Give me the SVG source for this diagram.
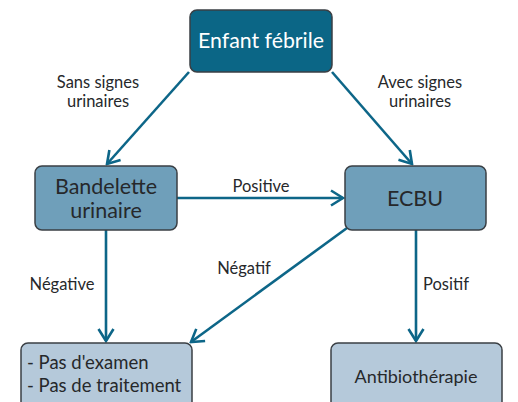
<svg xmlns="http://www.w3.org/2000/svg" width="518" height="402" viewBox="0 0 518 402">
<defs>
<marker id="chev" viewBox="-14 -9 16 18" refX="0" refY="0" markerWidth="16" markerHeight="18" markerUnits="userSpaceOnUse" orient="auto">
<path d="M-12,-7.5 L0,0 L-12,7.5" fill="none" stroke="#0d6688" stroke-width="2.6" stroke-linejoin="miter"/>
</marker>
</defs>
<style>
.node{stroke:#3a3f44;stroke-width:1.5}
.dark{fill:#0b6686}
.mid{fill:#6f9fba}
.light{fill:#b5c9da}
.t{font-family:Lato,"Open Sans","Liberation Sans",sans-serif;fill:#26282b}
.lbl{font-size:16.5px;text-anchor:middle}
.edge{stroke:#0d6688;stroke-width:2.6;fill:none;marker-end:url(#chev)}
</style>
<rect width="518" height="402" fill="#ffffff"/>
<g id="connectors">
<line class="edge" x1="189" y1="72" x2="107" y2="164"/>
<line class="edge" x1="332" y1="72" x2="412" y2="164"/>
<line class="edge" x1="177" y1="198" x2="343" y2="198"/>
<line class="edge" x1="106" y1="230" x2="106" y2="341"/>
<line class="edge" x1="416" y1="230" x2="416" y2="341"/>
<line class="edge" x1="347" y1="228" x2="191" y2="342"/>
</g>
<g id="labels">
<text class="t lbl" x="98" y="88">Sans signes</text>
<text class="t lbl" x="98" y="107">urinaires</text>
<text class="t lbl" x="420" y="88">Avec signes</text>
<text class="t lbl" x="420" y="107">urinaires</text>
<text class="t lbl" x="261" y="192">Positive</text>
<text class="t lbl" x="62" y="290">Négative</text>
<text class="t lbl" x="244" y="274">Négatif</text>
<text class="t lbl" x="446" y="290">Positif</text>
</g>
<g id="n-enfant">
<rect class="node dark" x="190" y="10" width="142" height="62" rx="7"/>
<text class="t" x="261" y="48" font-size="21.3" text-anchor="middle" style="fill:#ffffff">Enfant fébrile</text>
</g>
<g id="n-bandelette">
<rect class="node mid" x="35" y="166" width="142" height="64" rx="7"/>
<text class="t" x="106" y="194" font-size="21.5" text-anchor="middle">Bandelette</text>
<text class="t" x="106" y="218" font-size="21.5" text-anchor="middle">urinaire</text>
</g>
<g id="n-ecbu">
<rect class="node mid" x="345" y="166" width="141" height="64" rx="7"/>
<text class="t" x="415" y="206" font-size="21.5" text-anchor="middle">ECBU</text>
</g>
<g id="n-pas">
<rect class="node light" x="21" y="343" width="171" height="70" rx="7"/>
<text class="t" x="27" y="369" font-size="18.5">- Pas d'examen</text>
<text class="t" x="27" y="392" font-size="18.5">- Pas de traitement</text>
</g>
<g id="n-antibio">
<rect class="node light" x="331" y="343" width="171" height="70" rx="7"/>
<text class="t" x="416" y="383" font-size="18" text-anchor="middle">Antibiothérapie</text>
</g>
</svg>
